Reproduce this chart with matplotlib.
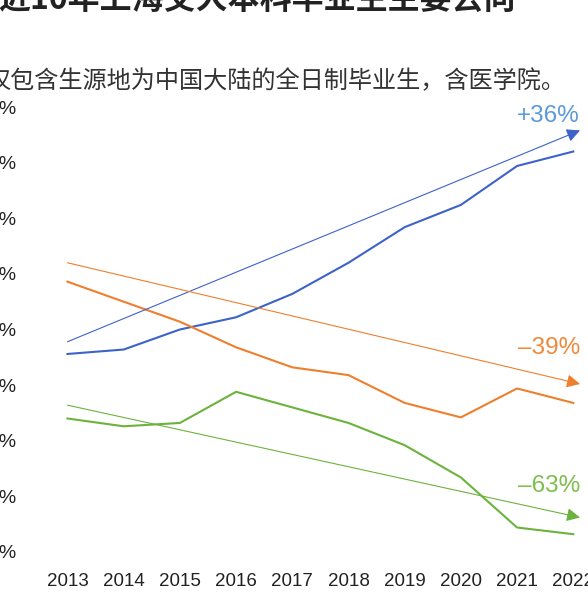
import matplotlib
matplotlib.use('Agg')
import matplotlib.pyplot as plt

plt.rcParams['font.family'] = ['Liberation Sans', 'Noto Sans CJK SC', 'DejaVu Sans']

# 数据（百分比，读图估计）
years = [2013, 2014, 2015, 2016, 2017, 2018, 2019, 2020, 2021, 2022]
blue_vals = [17.8, 18.2, 20.0, 21.1, 23.2, 26.0, 29.2, 31.2, 34.7, 36.0]
orange_vals = [24.3, 22.5, 20.7, 18.4, 16.6, 15.9, 13.4, 12.1, 14.7, 13.4]
green_vals = [12.0, 11.3, 11.6, 14.4, 13.0, 11.6, 9.6, 6.7, 2.2, 1.6]

# 趋势箭头：起点、终点
trend_x = [2013, 2022.12]
blue_trend = [18.9, 37.9]
orange_trend = [26.0, 15.1]
green_trend = [13.2, 3.1]

change_labels = ['+36%', '–39%', '–63%']
label_y = [39.2, 18.3, 5.9]

y_ticks = [0, 5, 10, 15, 20, 25, 30, 35, 40]
y_tick_labels = ['%d%%' % v for v in y_ticks]

title = '近10年上海交大本科毕业生主要去向'
subtitle = '仅包含生源地为中国大陆的全日制毕业生，含医学院。'

line_colors = ['#3d63c9', '#ef7f2d', '#6cb33e']
text_colors = ['#5b9ad8', '#ee8a3c', '#7fbf4d']

W, H = 588, 608
fig = plt.figure(figsize=(W / 100, H / 100), dpi=100)
ax = fig.add_axes([40 / W, 48 / H, 548 / W, 465 / H])

series = [blue_vals, orange_vals, green_vals]
trends = [blue_trend, orange_trend, green_trend]

for vals, tr, lc, tc, lab, ly in zip(series, trends, line_colors, text_colors,
                                     change_labels, label_y):
    ax.plot(years, vals, color=lc, lw=1.5, solid_joinstyle='round')
    ax.annotate('', xy=(trend_x[1], tr[1]), xytext=(trend_x[0], tr[0]),
                arrowprops=dict(arrowstyle='-|>,head_length=0.5,head_width=0.25',
                                color=lc, lw=0.8, mutation_scale=16,
                                shrinkA=0, shrinkB=0))
    ax.text(2022.12, ly, lab, color=tc, fontsize=17.5, ha='right', va='center')

ax.set_xlim(2012.511, 2022.262)
ax.set_ylim(-0.72, 41.08)
ax.set_xticks(years)
ax.set_xticklabels([str(y) for y in years])
ax.set_yticks(y_ticks)
ax.set_yticklabels(y_tick_labels)
ax.tick_params(axis='x', length=0, pad=9.5, labelsize=13.5, colors='#222222')
ax.tick_params(axis='y', length=0, pad=17, labelsize=14, colors='#222222')
for s in ax.spines.values():
    s.set_visible(False)

fig.text(-2 / W, 1 - 9 / H, title, fontsize=23, fontweight='bold',
         family=['Noto Sans CJK SC'], color='#222222', ha='left', va='baseline')
fig.text(-14 / W, 1 - 81 / H, subtitle, fontsize=17.4,
         family=['Noto Sans CJK SC'], color='#333333', ha='left', va='center')

fig.savefig('out.png', dpi=100)
